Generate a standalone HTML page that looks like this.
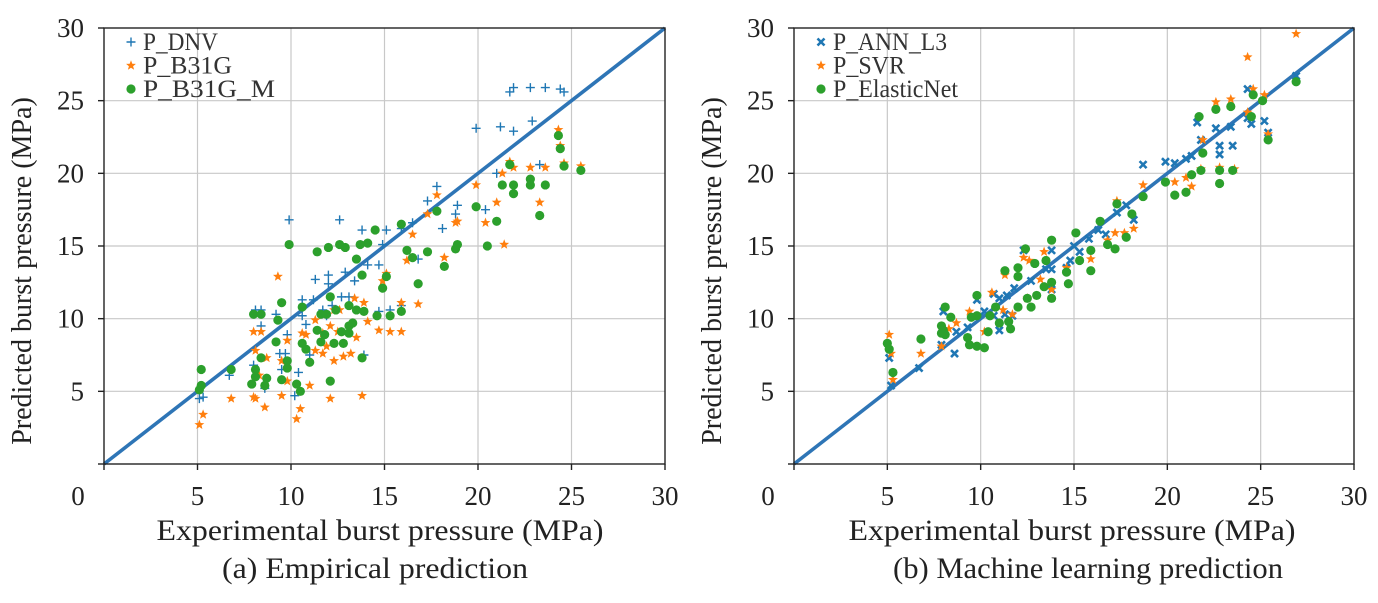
<!DOCTYPE html>
<html><head><meta charset="utf-8"><style>
html,body{margin:0;padding:0;background:#fff;}
svg{display:block;font-family:"Liberation Serif",serif;}
</style></head><body>
<svg id="c" width="1378" height="603" viewBox="0 0 1378 603"></svg>
<script>
const ticks=[0,5,10,15,20,25,30];
const tickLabels=["0","5","10","15","20","25","30"];
const dnvX=[21.7,21.9,22.8,23.6,24.4,24.6,19.9,21.2,21.9,22.9,21.0,23.3,17.8,17.3,18.9,18.8,20.4,18.1,16.5,15.9,9.9,12.6,13.8,15.1,14.9,14.7,14.1,16.8,12.0,11.3,12.0,12.9,13.4,10.6,11.2,12.2,12.7,13.1,8.1,8.4,9.2,10.6,10.8,11.7,11.9,14.7,15.3,15.9,8.4,9.8,9.4,9.7,11.0,8.0,6.7,9.5,10.4,8.6,10.2,5.1,5.3,13.9];
const dnvY=[25.6,25.9,25.9,25.9,25.8,25.6,23.1,23.2,22.9,23.6,20.0,20.6,19.1,18.1,17.8,17.2,17.5,16.2,16.6,16.2,16.8,16.8,16.1,16.1,15.1,13.7,13.7,14.1,13.0,12.7,12.4,13.2,12.6,11.3,11.3,10.9,11.5,11.5,10.6,10.6,10.3,10.2,9.6,10.6,10.2,10.5,10.6,10.9,9.5,8.9,7.6,7.6,7.5,6.8,6.1,6.5,6.3,5.2,4.7,4.5,4.6,7.5];
const b31gX=[24.3,24.4,24.6,25.5,21.7,21.9,21.3,22.8,23.6,19.9,21.0,23.3,20.4,21.4,17.8,17.3,18.9,18.8,16.5,18.2,16.2,9.3,15.1,14.9,13.4,13.9,15.9,16.8,12.3,12.6,14.1,14.7,15.3,15.9,8.0,8.4,10.6,10.8,11.3,11.7,12.1,12.5,9.8,13.5,11.3,11.7,11.9,12.3,12.8,13.2,8.1,8.7,9.5,9.8,11.0,8.3,6.8,8.0,8.1,9.5,12.1,13.8,8.6,10.5,10.3,5.3,5.1];
const b31gY=[23.0,21.9,20.7,20.5,20.8,20.4,20.0,20.4,20.4,19.2,18.0,18.0,16.6,15.1,18.5,17.2,16.7,16.6,15.8,14.2,14.0,12.9,13.1,12.6,11.4,11.1,11.1,11.0,10.6,10.6,9.8,9.2,9.1,9.1,9.1,9.1,9.0,8.9,9.9,9.0,9.5,9.1,8.5,8.7,7.8,7.6,8.1,7.1,7.4,7.6,7.8,7.3,7.1,5.7,5.4,6.1,4.5,4.6,4.5,4.7,4.5,4.7,3.9,3.8,3.1,3.4,2.7];
const b31gmX=[24.3,24.4,24.6,25.5,21.7,21.3,21.9,21.9,22.8,22.8,23.6,23.3,19.9,21.0,20.5,17.8,18.9,18.8,18.2,17.3,16.5,16.2,15.9,14.5,9.9,11.4,12.0,12.6,12.9,13.7,14.1,13.5,13.8,15.1,14.9,16.8,12.1,9.5,10.6,8.0,8.4,9.3,11.6,11.9,12.4,13.1,13.5,13.9,14.6,15.3,15.9,11.4,11.8,12.7,13.1,13.3,13.1,11.6,12.3,12.8,10.6,10.8,9.2,11.0,8.4,9.8,9.8,8.1,8.1,8.7,9.5,7.9,8.6,10.3,10.5,12.1,13.8,6.8,5.2,5.2,5.1];
const b31gmY=[22.6,21.7,20.5,20.2,20.6,19.2,19.2,18.6,19.6,19.2,19.2,17.1,17.7,16.7,15.0,17.4,15.1,14.8,13.6,14.6,14.2,14.7,16.5,16.1,15.1,14.6,14.9,15.1,14.9,15.1,15.2,14.1,13.0,12.9,12.1,12.4,11.5,11.1,10.8,10.3,10.3,9.9,10.3,10.3,10.6,10.9,10.6,10.5,10.2,10.2,10.5,9.2,8.9,9.1,9.5,9.7,9.0,8.4,8.3,8.3,8.3,7.9,8.4,7.0,7.3,7.1,6.6,6.5,6.0,5.9,5.8,5.5,5.4,5.5,5.0,5.7,7.3,6.5,6.5,5.4,5.1];
const annX=[26.9,24.3,24.5,25.2,25.4,24.3,23.4,22.6,21.6,21.8,22.8,22.8,23.5,18.7,19.9,20.4,21.0,21.3,17.3,17.8,18.2,16.3,16.7,15.8,15.3,15.0,14.8,13.8,13.8,13.5,12.7,12.3,11.8,11.4,11.0,10.7,11.3,11.7,10.7,10.2,9.8,9.3,8.7,8.6,8.0,7.9,11.0,13.8,6.7,5.2,5.1,14.6];
const annY=[26.7,25.8,23.4,23.6,22.8,23.8,23.2,23.1,23.5,22.3,21.9,21.3,21.9,20.6,20.8,20.7,21.0,21.2,17.3,17.8,16.8,16.1,15.8,15.5,14.6,15.0,14.0,14.7,13.4,13.4,12.6,14.7,12.1,11.6,11.4,11.7,10.3,10.2,10.2,10.5,11.3,9.4,9.1,7.6,10.5,8.2,9.2,12.0,6.6,5.4,7.3,13.5];
const svrX=[26.9,24.3,24.6,25.2,25.4,22.6,23.4,24.3,21.9,21.8,22.8,23.6,20.4,21.0,21.3,18.7,17.3,18.2,17.7,17.2,16.8,15.9,14.6,13.4,12.3,12.6,11.3,13.2,13.8,12.5,10.6,11.2,11.7,9.4,8.7,8.3,10.2,7.9,6.8,5.1,5.2,5.3];
const svrY=[29.6,28.0,25.8,25.4,22.7,24.9,25.1,24.2,22.3,20.3,20.4,20.3,19.4,19.7,19.1,19.2,18.1,16.2,15.9,15.9,15.4,14.1,13.5,14.6,14.2,14.0,13.0,12.7,12.0,11.4,11.8,10.6,10.3,10.5,9.7,9.3,9.1,8.1,7.6,8.9,7.6,5.8];
const enX=[26.9,24.6,25.1,22.6,23.4,21.7,24.5,25.4,21.9,21.8,22.8,23.5,22.8,21.3,19.9,20.4,21.0,18.7,17.3,18.1,17.8,17.2,16.8,16.4,15.1,15.9,15.9,15.3,14.7,14.6,13.8,12.4,13.5,12.9,11.3,12.0,12.0,13.8,13.4,13.0,12.5,12.7,13.8,12.0,9.8,10.8,10.5,11.5,11.6,11.0,10.4,9.8,9.5,9.3,9.4,9.8,10.2,8.1,7.9,8.0,8.1,7.9,8.4,6.8,5.0,5.1,5.3];
const enY=[26.3,25.4,25.0,24.4,24.6,23.9,23.9,22.3,21.4,20.2,20.2,20.2,19.3,19.9,19.4,18.5,18.7,18.4,17.9,17.2,15.6,14.8,15.1,16.7,15.9,14.7,13.3,14.0,12.4,13.2,15.4,14.8,14.0,13.8,13.3,13.5,12.9,12.5,12.2,11.6,11.4,10.8,11.4,10.8,11.6,10.8,10.2,9.8,9.3,9.7,9.1,10.2,10.1,8.7,8.2,8.1,8.0,10.8,9.5,9.2,8.9,9.0,10.1,8.6,8.3,7.9,6.3];

const NS='http://www.w3.org/2000/svg';
const svg=document.getElementById('c');
function mk(tag,attrs,parent){const e=document.createElementNS(NS,tag);for(const k in attrs)e.setAttribute(k,attrs[k]);(parent||svg).appendChild(e);return e;}
const BLUE='#1f77b4',ORANGE='#ff7f0e',GREEN='#2ca02c';
const Y0=464,Y1=28;
function yScale(v){return Y0-(v/30)*(Y0-Y1);}

function marker(g,type,cx,cy,color){
  let e;
  if(type==='plus'){e=mk('path',{d:`M${cx-4.5},${cy}H${cx+4.5}M${cx},${cy-4.5}V${cy+4.5}`,stroke:color,'stroke-width':1.4,fill:'none'},g);}
  else if(type==='x'){e=mk('path',{d:`M${cx-3.5},${cy-3.5}L${cx+3.5},${cy+3.5}M${cx-3.5},${cy+3.5}L${cx+3.5},${cy-3.5}`,stroke:color,'stroke-width':2.6,fill:'none'},g);}
  else if(type==='star'){let p=[];for(let i=0;i<10;i++){const r=i%2?2.2:5.2;const a=-Math.PI/2+i*Math.PI/5;p.push((cx+r*Math.cos(a)).toFixed(1)+','+(cy+r*Math.sin(a)).toFixed(1));}e=mk('polygon',{points:p.join(' '),fill:color},g);}
  else {e=mk('circle',{cx:cx,cy:cy,r:4.6,fill:color},g);}
  return e;
}

function panel(id,X0,X1,series,xTitle,xTitleX,caption,capX,capW){
  const xScale=v=>X0+(v/30)*(X1-X0);
  const g=mk('g',{});
  
  
  ticks.forEach((t,i)=>{
    if(t>0&&t<30){
      const gl=mk('line',{x1:xScale(t),x2:xScale(t),y1:Y1,y2:Y0,stroke:'#c8c8c8','stroke-width':1.2},g);
      
      
      const gh=mk('line',{x1:X0,x2:X1,y1:yScale(t),y2:yScale(t),stroke:'#c8c8c8','stroke-width':1.2},g);
      
      
    }
  });
  const d=mk('line',{x1:xScale(0),y1:yScale(0),x2:xScale(30),y2:yScale(30),stroke:'#2e75b6','stroke-width':3.6},g);
  
  
  series.forEach(s=>{
    const sg=mk('g',{},g);
    
    
    s.xs.forEach((xv,i)=>{
      const m=marker(sg,s.type,xScale(xv),yScale(s.ys[i]),s.color);
      
      
    });
  });
  const fr=mk('rect',{x:X0,y:Y1,width:X1-X0,height:Y0-Y1,fill:'none',stroke:'#222','stroke-width':1.4},g);
  
  
  ticks.forEach((t,i)=>{
    const tk=mk('line',{x1:xScale(t),x2:xScale(t),y1:Y0,y2:Y0+6,stroke:'#222','stroke-width':1.4},g);
    
    
    const ty=mk('line',{x1:X0-6,x2:X0,y1:yScale(t),y2:yScale(t),stroke:'#222','stroke-width':1.4},g);
    
    
    if(t>0){
      const tl=mk('text',{x:xScale(t),y:Y0+41,'text-anchor':'middle','font-size':27,fill:'#222'},g);
      tl.textContent=tickLabels[i];
      
      
      const yl=mk('text',{x:X0-20,y:yScale(t)+9,'text-anchor':'end','font-size':27,fill:'#222'},g);
      yl.textContent=tickLabels[i];
      
      
    } else {
      const zl=mk('text',{x:X0-26,y:Y0+41,'text-anchor':'middle','font-size':27,fill:'#222'},g);
      zl.textContent=tickLabels[i];
      
      
    }
  });
  const xt=mk('text',{x:xTitleX,y:540,'text-anchor':'middle','font-size':30,fill:'#222',textLength:447,lengthAdjust:'spacingAndGlyphs'},g);
  xt.textContent=xTitle;
  
  
  const cy=(Y0+Y1)/2+25;
  const yt=mk('text',{x:X0-73,y:cy,'text-anchor':'middle','font-size':28,fill:'#222',transform:`rotate(-90 ${X0-73} ${cy})`},g);
  yt.textContent='Predicted burst pressure (MPa)';
  
  
  const cp=mk('text',{x:capX,y:578,'text-anchor':'middle','font-size':30,fill:'#222',textLength:capW,lengthAdjust:'spacingAndGlyphs'},g);
  cp.textContent=caption;
  
  
  const lg=mk('g',{},g);
  
  
  series.forEach((s,i)=>{
    const ly=Y1+14+i*23.5;
    const m=marker(lg,s.type,X0+27,ly,s.color);
    
    
    const lt=mk('text',{x:X0+39,y:ly+8,'font-size':25,fill:'#333',textLength:s.lw,lengthAdjust:'spacingAndGlyphs'},lg);
    lt.textContent=s.label;
    
    
  });
}
panel('empirical',104,665,[
  {name:'dnv',label:'P_DNV',type:'plus',color:BLUE,xs:dnvX,ys:dnvY,lw:75},
  {name:'b31g',label:'P_B31G',type:'star',color:ORANGE,xs:b31gX,ys:b31gY,lw:89},
  {name:'b31g-m',label:'P_B31G_M',type:'circle',color:GREEN,xs:b31gmX,ys:b31gmY,lw:132}
],'Experimental burst pressure (MPa)',380,'(a) Empirical prediction',375,306);
panel('ml',794,1354,[
  {name:'ann',label:'P_ANN_L3',type:'x',color:BLUE,xs:annX,ys:annY,lw:114},
  {name:'svr',label:'P_SVR',type:'star',color:ORANGE,xs:svrX,ys:svrY,lw:72},
  {name:'elasticnet',label:'P_ElasticNet',type:'circle',color:GREEN,xs:enX,ys:enY,lw:125}
],'Experimental burst pressure (MPa)',1072,'(b) Machine learning prediction',1088,390);
</script>
</body></html>
